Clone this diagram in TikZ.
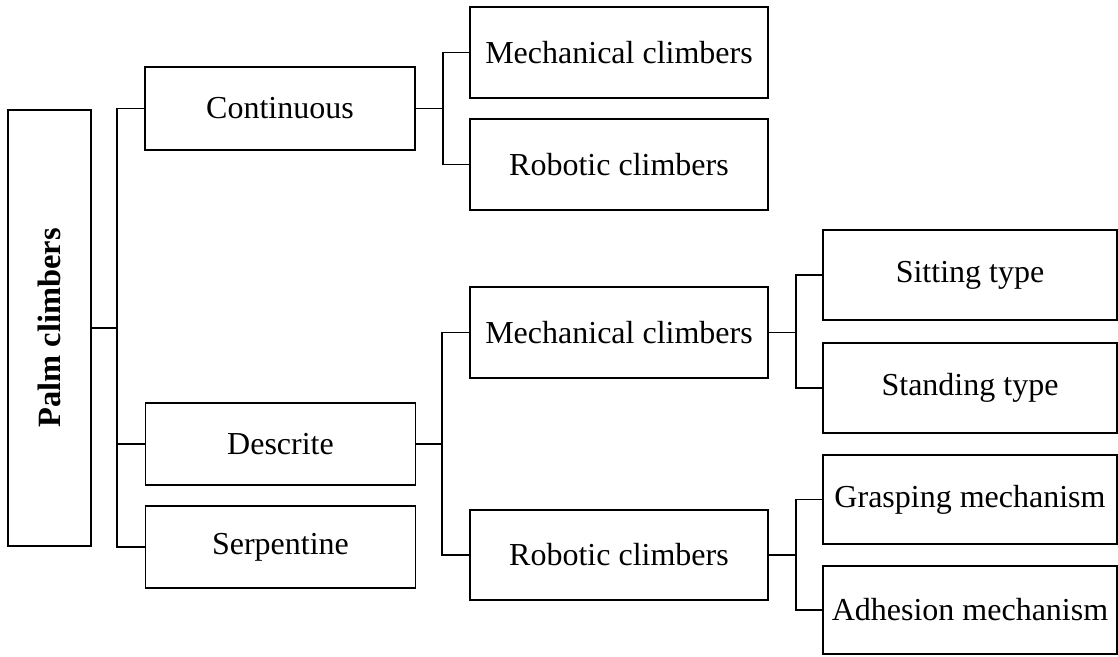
\documentclass[tikz,border=0pt]{standalone}
\usepackage{fontspec}
\setmainfont{Liberation Serif}
\usepackage{tikz}

\begin{document}
\begin{tikzpicture}
                \tikzset{x={(1pt, 0pt)}, y={(0pt, -1pt)}}
                \tikzset{box/.style={draw, line width=1.8pt, inner sep=0pt, font=\fontsize{32}{38}\selectfont},
                         link/.style={line width=1.8pt}}
                \useasboundingbox (0, 0) rectangle (1118, 656);
                \node[box, rotate=90, minimum width=436pt, minimum height=83pt, font=\fontsize{32.5}{38}\selectfont\bfseries] (palm) at (49.5, 328) {Palm climbers};
                \node[box, minimum width=270pt, minimum height=83pt] (cont) at (280, 108.5) {Continuous};
                \node[box, minimum width=270pt, minimum height=82pt] (desc) at (280.5, 444) {Descrite};
                \node[box, minimum width=270pt, minimum height=82pt] (serp) at (280.5, 547) {Serpentine};
                \node[box, minimum width=298pt, minimum height=91pt] (mechA) at (619, 52.5) {Mechanical climbers};
                \node[box, minimum width=298pt, minimum height=91pt] (robA) at (619, 164.5) {Robotic climbers};
                \node[box, minimum width=298pt, minimum height=91pt] (mechB) at (619, 332.5) {Mechanical climbers};
                \node[box, minimum width=298pt, minimum height=90pt] (robB) at (619, 555) {Robotic climbers};
                \node[box, minimum width=294pt, minimum height=90pt] (sit) at (970, 275) {Sitting type};
                \node[box, minimum width=294pt, minimum height=90pt] (stand) at (970, 388) {Standing type};
                \node[box, minimum width=294pt, minimum height=89pt] (grasp) at (970, 499.5) {Grasping mechanism};
                \node[box, minimum width=294pt, minimum height=88pt] (adh) at (970, 610) {Adhesion mechanism};
                \coordinate (j1) at (117, 328);
                \coordinate (j2) at (443, 108.5);
                \coordinate (j3) at (442, 444);
                \coordinate (j4) at (796, 332.5);
                \coordinate (j5) at (796, 555);
                \draw[link] (palm.south) -- (j1);
                \draw[link] (cont.west) -| (j1) |- (serp.west);
                \draw[link] (desc.west) -- (desc.west -| j1);
                \draw[link] (cont.east) -- (j2);
                \draw[link] (mechA.west) -| (j2) |- (robA.west);
                \draw[link] (desc.east) -- (j3);
                \draw[link] (mechB.west) -| (j3) |- (robB.west);
                \draw[link] (mechB.east) -- (j4);
                \draw[link] (sit.west) -| (j4) |- (stand.west);
                \draw[link] (robB.east) -- (j5);
                \draw[link] (grasp.west) -| (j5) |- (adh.west);
            \end{tikzpicture}
\end{document}
